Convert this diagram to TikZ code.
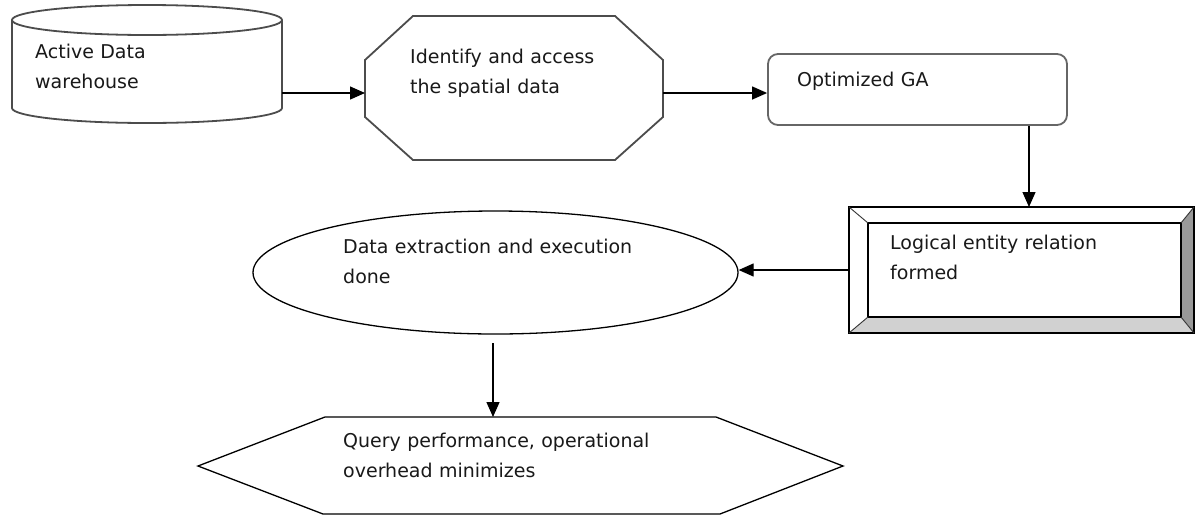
\documentclass[tikz,border=0pt]{standalone}
\usepackage{fontspec}
\setmainfont{DejaVu Sans}
\usetikzlibrary{shapes.geometric,arrows.meta}
\begin{document}
\begin{tikzpicture}[x=1pt,y=-1pt,
  shapeline/.style={draw=black!70,line width=1.8pt},
  thinline/.style={draw=black,line width=1.3pt},
  conn/.style={draw=black,line width=1.3pt,-{Triangle[length=15pt,width=13pt]}},
  lbl/.style={anchor=base west,inner sep=0pt,text width=#1,align=left,
    font=\fontsize{19}{30}\selectfont,text=black!90},
  lbl/.default=360pt]
\useasboundingbox (0,0) rectangle (1195,515);
\fill[white] (0,0) rectangle (1195,515);

% cylinder: Active Data warehouse
\draw[shapeline] (12,20) -- (12,108) arc[start angle=180,end angle=360,x radius=135,y radius=-15] -- (282,20);
\draw[shapeline] (147,20) ellipse[x radius=135,y radius=15];
\coordinate (cylE) at (282,93);
\node[lbl] (cylT) at (35,58) {Active Data\\warehouse};

% octagon
\draw[shapeline] (365,60) -- (413,16) -- (615,16) -- (663,60) -- (663,117) -- (615,160) -- (413,160) -- (365,117) -- cycle;
\coordinate (octW) at (365,93);
\coordinate (octE) at (663,93);
\node[lbl] (octT) at (410,63) {Identify and access\\the spatial data};

% rounded rectangle
\node[shapeline,draw=black!60,rounded corners=10pt,minimum width=299pt,minimum height=71pt,inner sep=0pt] (ga) at (917.5,89.5) {};
\node[lbl] (gaT) at (797,86) {Optimized GA};

% bevel box
\fill[white] (849,207) rectangle (1194,333);
\fill[black!40] (1194,207) -- (1181,223) -- (1181,317) -- (1194,333) -- cycle;
\fill[black!18] (849,333) -- (868,317) -- (1181,317) -- (1194,333) -- cycle;
\draw[black,line width=1.3pt] (849,207) rectangle (1194,333);
\draw[black,line width=1.3pt] (868,223) rectangle (1181,317);
\draw[black!80,line width=0.9pt] (849,207) -- (868,223) (1194,207) -- (1181,223) (849,333) -- (868,317) (1194,333) -- (1181,317);
\coordinate (bevN) at (1029,207);
\coordinate (bevW) at (849,270);
\node[lbl] (bevT) at (890,249) {Logical entity relation\\formed};

% ellipse
\node[ellipse,thinline,minimum width=485pt,minimum height=123pt,inner sep=0pt] (ext) at (495.5,272.5) {};
\node[lbl=400pt] (extT) at (343,253) {Data extraction and execution\\done};
\coordinate (extS) at (493,343);

% hexagon
\draw[thinline] (198,466) -- (325,417) -- (716,417) -- (843,466) -- (720,514) -- (323,514) -- cycle;
\coordinate (hexN) at (493,417);
\node[lbl=400pt] (hexT) at (343,447) {Query performance, operational\\overhead minimizes};

% connectors
\draw[conn] (cylE) -- (octW);
\draw[conn] (octE) -- (octE -| ga.west);
\draw[conn] (ga.south -| bevN) -- (bevN);
\draw[conn] (bevW) -- (bevW -| ext.east);
\draw[conn] (extS) -- (hexN);
\end{tikzpicture}
\end{document}
